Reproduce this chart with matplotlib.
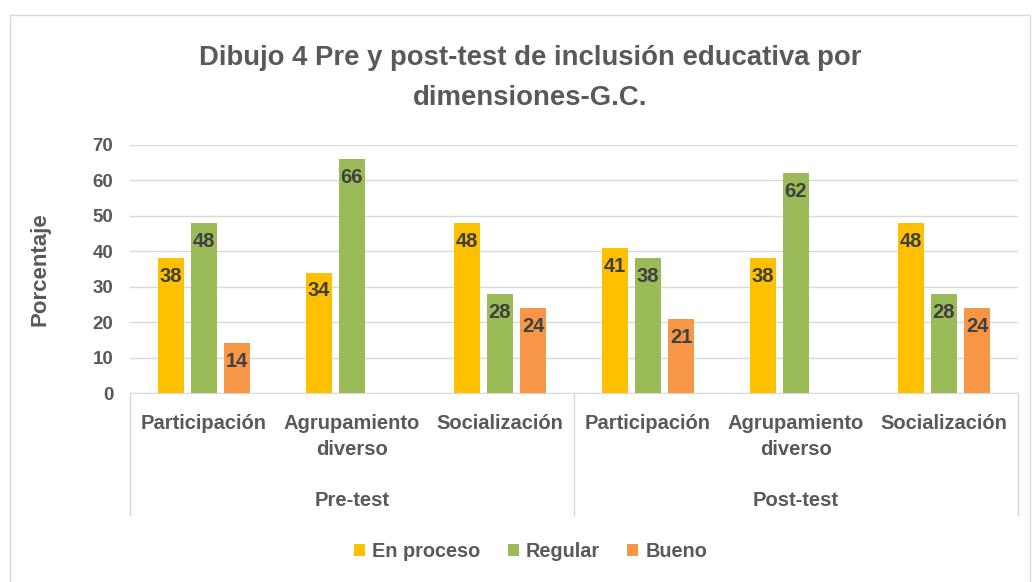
import numpy as np
import matplotlib.pyplot as plt
from matplotlib.patches import Rectangle

# Data
categories = ["Participación", "Agrupamiento\ndiverso", "Socialización",
              "Participación", "Agrupamiento\ndiverso", "Socialización"]
groups = ["Pre-test", "Post-test"]
en_proceso = [38, 34, 48, 41, 38, 48]
regular = [48, 66, 28, 38, 62, 28]
bueno = [14, np.nan, 24, 21, np.nan, 24]

series = [("En proceso", en_proceso, "#FFC000"),
          ("Regular", regular, "#9BBB59"),
          ("Bueno", bueno, "#F79646")]

plt.rcParams['font.family'] = ['Liberation Sans', 'DejaVu Sans']
plt.rcParams['font.weight'] = 'bold'

fig = plt.figure(figsize=(10.34, 5.82), dpi=100)
ax = fig.add_axes([0.1257, 0.3247, 0.8588, 0.4262])

x = np.arange(len(categories))
width = 0.176
step = 0.223
for i, (name, vals, col) in enumerate(series):
    pos = x + (i - 1) * step
    bars = ax.bar(pos, vals, width, color=col, label=name, zorder=3)
    for xp, v in zip(pos, vals):
        if not np.isnan(v):
            ax.text(xp, v - 5.2, f"{v:g}", ha='center', va='center',
                    fontsize=14.5, fontweight='bold', color='#404040', zorder=4)

ax.set_xlim(-0.5, len(categories) - 0.5)
ax.set_ylim(0, 70)
ax.set_yticks(range(0, 71, 10))
ax.tick_params(axis='y', length=0, labelsize=13.5, labelcolor='#595959', pad=12)
for t in ax.get_yticklabels():
    t.set_fontweight('bold')
ax.set_xticks([])
ax.grid(axis='y', color='#D9D9D9', linewidth=1, zorder=0)
for s in ['top', 'right', 'left']:
    ax.spines[s].set_visible(False)
ax.spines['bottom'].set_color('#D9D9D9')
ax.set_ylabel("Porcentaje", fontsize=16, fontweight='bold', color='#595959', labelpad=30)

# category labels and group labels below the axis
trans = ax.get_xaxis_transform()
for xi, lab in zip(x, categories):
    ax.text(xi, -0.085, lab, transform=trans, ha='center', va='top',
            fontsize=14.5, fontweight='bold', color='#595959', linespacing=1.45)
for gi, g in enumerate(groups):
    ax.text(gi * 3 + 1, -0.435, g, transform=trans, ha='center', va='center',
            fontsize=14.5, fontweight='bold', color='#595959')
for xs in [-0.5, 2.5, 5.5]:
    ax.plot([xs, xs], [0, -0.49], transform=trans, color='#D9D9D9',
            linewidth=1, clip_on=False)

fig.suptitle("Dibujo 4 Pre y post-test de inclusión educativa por\ndimensiones-G.C.",
             x=0.513, y=0.922, fontsize=19.8, fontweight='bold', color='#595959',
             linespacing=1.7)

leg = fig.legend(loc='center', bbox_to_anchor=(0.513, 0.053), ncol=3, frameon=False,
                 prop={'size': 14.3, 'weight': 'bold'}, handlelength=0.55,
                 handleheight=0.55, handletextpad=0.35, columnspacing=1.4)
for t in leg.get_texts():
    t.set_color('#595959')

fig.patches.append(Rectangle((10 / 1034, -0.01), 1020 / 1034, 0.985,
                             transform=fig.transFigure, fill=False,
                             edgecolor='#D9D9D9', linewidth=1))

fig.savefig("out.png", dpi=100)
